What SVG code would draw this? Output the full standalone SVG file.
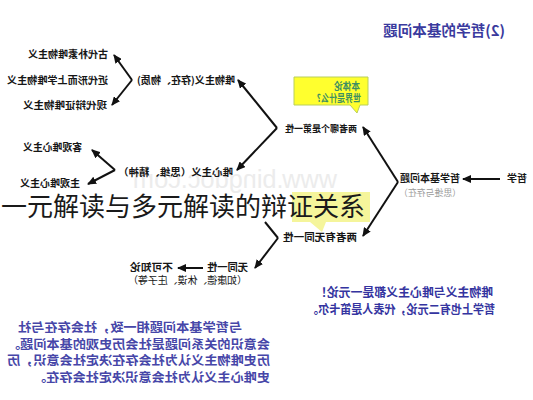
<svg xmlns="http://www.w3.org/2000/svg" width="533" height="400" viewBox="0 0 533 400">
<style>
text{font-family:"Noto Sans CJK SC","Noto Sans",sans-serif;}
.n{font-size:10px;font-weight:bold;fill:#161616;}
.g{font-size:9px;fill:#9a9a9a;}
.b{font-size:12px;font-weight:bold;fill:#3434a0;}
.p{font-size:12.5px;font-weight:bold;fill:#4646a8;}
.c{stroke:#111;stroke-width:2;fill:none;}
.wm{font-family:"Liberation Sans",sans-serif;font-size:25px;fill:#ececec;}
</style>
<defs>
<marker id="ah" markerUnits="userSpaceOnUse" markerWidth="9" markerHeight="8" refX="8" refY="4" orient="auto">
<path d="M0,0 L9,4 L0,8 z" fill="#111"/>
</marker>
</defs>
<rect width="533" height="400" fill="#fff"/>
<g transform="matrix(-1 0 0 1 533 0)">
<text class="wm" x="196" y="188" textLength="204" lengthAdjust="spacingAndGlyphs">www.bingdoc.com</text>
<g id="connectors">
<path class="c" d="M33,179 L70,179" marker-end="url(#ah)"/>
<path class="c" d="M135,182 L170,127" marker-end="url(#ah)"/>
<path class="c" d="M135,182 L170,236" marker-end="url(#ah)"/>
<path class="c" d="M256,128 L295,80" marker-end="url(#ah)"/>
<path class="c" d="M256,128 L296,170" marker-end="url(#ah)"/>
<path class="c" d="M401,80 L419,55" marker-end="url(#ah)"/>
<path class="c" d="M401,80 L421,105" marker-end="url(#ah)"/>
<path class="c" d="M418,170 L441,150" marker-end="url(#ah)"/>
<path class="c" d="M418,170 L445,184" marker-end="url(#ah)"/>
<path class="c" d="M255,238 L278,268" marker-end="url(#ah)"/>
<path class="c" d="M255,238 L268,222"/>
<path class="c" d="M330,268 L355,268" marker-end="url(#ah)"/>
</g>
<g id="title"><text x="28" y="36" textLength="122" lengthAdjust="spacingAndGlyphs" style="font-size:14.5px;font-weight:bold;fill:#3a3a9e">(2)哲学的基本问题</text></g>
<g id="zhexue"><text class="n" x="6" y="182" textLength="20" lengthAdjust="spacingAndGlyphs">哲学</text></g>
<g id="jibenwenti">
<text class="n" x="73" y="182" textLength="60" lengthAdjust="spacingAndGlyphs">哲学基本问题</text>
<text class="g" x="72" y="196" textLength="62" lengthAdjust="spacingAndGlyphs">（思维与存在）</text>
</g>
<g id="callout">
<path d="M165,77 H239 V105 H183 L176,113 L173,105 H165 Z" fill="#ffff2e" stroke="#b9cf5a" stroke-width="1"/>
<text x="173" y="90" textLength="26" lengthAdjust="spacingAndGlyphs" style="font-size:10.5px;font-weight:bold;fill:#3f8f62">本体论</text>
<text x="172" y="102" textLength="44" lengthAdjust="spacingAndGlyphs" style="font-size:10.5px;font-weight:bold;fill:#3f8f62">世界是什么?</text>
</g>
<g id="diyixing"><text class="n" x="176" y="132" textLength="72" lengthAdjust="spacingAndGlyphs" style="font-size:9.5px">两者哪个是第一性</text></g>
<g id="tongyixing"><text class="n" x="176" y="241" textLength="74" lengthAdjust="spacingAndGlyphs">两者有无同一性</text></g>
<g id="weiwu"><text class="n" x="298" y="84" textLength="98" lengthAdjust="spacingAndGlyphs">唯物主义(存在、物质)</text></g>
<g id="weixin"><text class="n" x="300" y="176" textLength="115" lengthAdjust="spacingAndGlyphs">唯心主义（思维、精神）</text></g>
<g id="gudai"><text class="n" x="425" y="58" textLength="80" lengthAdjust="spacingAndGlyphs">古代朴素唯物主义</text></g>
<g id="jindai"><text class="n" x="425" y="84" textLength="101" lengthAdjust="spacingAndGlyphs">近代形而上学唯物主义</text></g>
<g id="xiandai"><text class="n" x="426" y="109" textLength="84" lengthAdjust="spacingAndGlyphs">现代辩证唯物主义</text></g>
<g id="keguan"><text class="n" x="451" y="151" textLength="59" lengthAdjust="spacingAndGlyphs">客观唯心主义</text></g>
<g id="zhuguan"><text class="n" x="453" y="187" textLength="60" lengthAdjust="spacingAndGlyphs">主观唯心主义</text></g>
<g id="wutongyi"><text class="n" x="285" y="271" textLength="41" lengthAdjust="spacingAndGlyphs">无同一性</text></g>
<g id="bukezhi">
<text class="n" x="360" y="271" textLength="43" lengthAdjust="spacingAndGlyphs">不可知论</text>
<text class="n" x="286" y="284" textLength="119" lengthAdjust="spacingAndGlyphs" style="font-weight:normal">（如康德、休谟、庄子等）</text>
</g>
<g id="yiyuan">
<text class="b" x="40" y="297" textLength="178" lengthAdjust="spacingAndGlyphs">唯物主义与唯心主义都是一元论！</text>
<text class="b" x="38" y="314" textLength="188" lengthAdjust="spacingAndGlyphs">哲学上也有二元论，代表人是笛卡尔。</text>
</g>
<g id="lishiguan">
<text class="p" x="291" y="332" textLength="224" lengthAdjust="spacingAndGlyphs">与哲学基本问题相一致，社会存在与社</text>
<text class="p" x="263" y="349" textLength="263" lengthAdjust="spacingAndGlyphs">会意识的关系问题是社会历史观的基本问题。</text>
<text class="p" x="263" y="365" textLength="263" lengthAdjust="spacingAndGlyphs">历史唯物主义认为社会存在决定社会意识，历</text>
<text class="p" x="263" y="382" textLength="237" lengthAdjust="spacingAndGlyphs">史唯心主义认为社会意识决定社会存在。</text>
</g>
</g>
<g id="overlay">
<path d="M292,192 H370 V222 H326 L322,232 L310,222 H292 Z" fill="#f3f38a" opacity="0.85"/>
<text x="1" y="216" textLength="364" lengthAdjust="spacingAndGlyphs" style="font-size:26px;fill:#1a1a1a">一元解读与多元解读的辩证关系</text>
</g>
</svg>
